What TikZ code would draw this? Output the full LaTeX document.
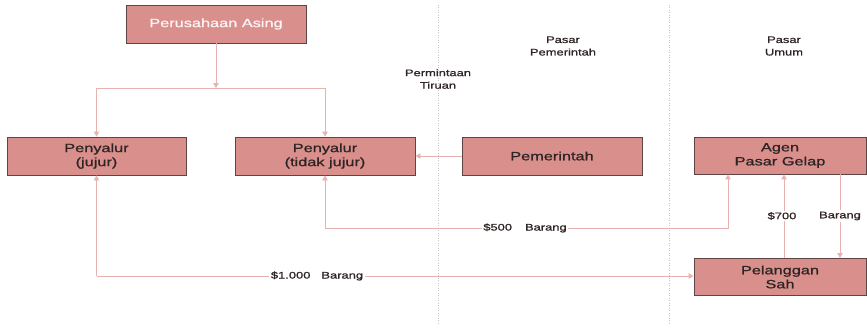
\documentclass[tikz,border=0pt]{standalone}
\usepackage{fontspec}
\setmainfont[FakeStretch=1.36,FakeBold=1]{Liberation Sans}
\usetikzlibrary{arrows.meta}
\definecolor{boxfill}{HTML}{D98F8C}
\definecolor{boxdraw}{HTML}{5E4443}
\definecolor{linkc}{HTML}{E6B3B1}
\definecolor{sepc}{HTML}{C4C4C4}
\definecolor{txtc}{HTML}{2E2424}
\tikzset{
  actor/.style={rectangle, draw=boxdraw, line width=0.9pt, fill=boxfill, minimum width=180pt, minimum height=38pt, align=center, font=\fontsize{12}{14}\selectfont, text=txtc, inner sep=0pt},
  link/.style={draw=linkc, line width=0.9pt, -{Triangle[width=5.5pt,length=5pt]}},
  lbl/.style={fill=white, inner sep=1.5pt, font=\fontsize{9.5}{12}\selectfont, text=txtc, align=center},
  head/.style={inner sep=0pt, font=\fontsize{9.5}{12.5}\selectfont, text=txtc, align=center},
  sep/.style={draw=sepc, line width=0.5pt, dotted}
}
\begin{document}
\begin{tikzpicture}[x=1pt, y=-1pt]
\useasboundingbox (0,0) rectangle (867,329);
% separators
\coordinate (s1t) at (438,5); \coordinate (s1b) at (438,325);
\coordinate (s2t) at (669,5); \coordinate (s2b) at (669,325);
\draw[sep] (s1t) -- (s1b);
\draw[sep] (s2t) -- (s2b);
% headings
\node[head] (h1) at (438,79) {Permintaan\\Tiruan};
\node[head] (h2) at (563,46) {Pasar\\Pemerintah};
\node[head] (h3) at (784,46) {Pasar\\Umum};
% boxes
\node[actor, text=white!90!boxfill] (pa) at (216,24) {Perusahaan Asing};
\node[actor, minimum width=179pt] (pj) at (96.5,156) {Penyalur\\(jujur)};
\node[actor] (pt) at (325,156) {Penyalur\\(tidak jujur)};
\node[actor] (pem) at (552,156) {Pemerintah};
\node[actor, minimum width=172pt, minimum height=37pt] (agen) at (780,155.5) {Agen\\Pasar Gelap};
\node[actor, minimum width=172pt, minimum height=37pt] (pel) at (780,277) {Pelanggan\\Sah};
% distribution from foreign company
\coordinate (j) at (216,88);
\draw[link] (pa) -- (j);
\draw[link] (j) -| (pj.north);
\draw[link] (j) -| (pt.north);
% government to dishonest distributor
\draw[link] (pem) -- (pt);
% $500 Barang
\coordinate (c5a) at (325,228);
\coordinate (c5b) at (728,228);
\draw[link] (c5a) -- (pt.south);
\draw[link] (c5a) -- (c5b) -- (c5b |- agen.south);
\node[lbl] (l5) at (525,228) {\$500\hspace{13pt}Barang};
% $1.000 Barang
\coordinate (c1a) at (96.5,276);
\draw[link] (c1a) -- (pj.south);
\draw[link] (c1a) -- (pel.west |- c1a);
\node[lbl] (l1) at (317,276) {\$1.000\hspace{11pt}Barang};
% $700 and Barang
\coordinate (c7) at (784,0);
\coordinate (cb) at (840,0);
\draw[link] (c7 |- pel.north) -- (c7 |- agen.south);
\draw[link] (cb |- agen.south) -- (cb |- pel.north);
\node[lbl] (l7) at (782,216) {\$700};
\node[lbl] (lb) at (840,216) {Barang};
\end{tikzpicture}
\end{document}
